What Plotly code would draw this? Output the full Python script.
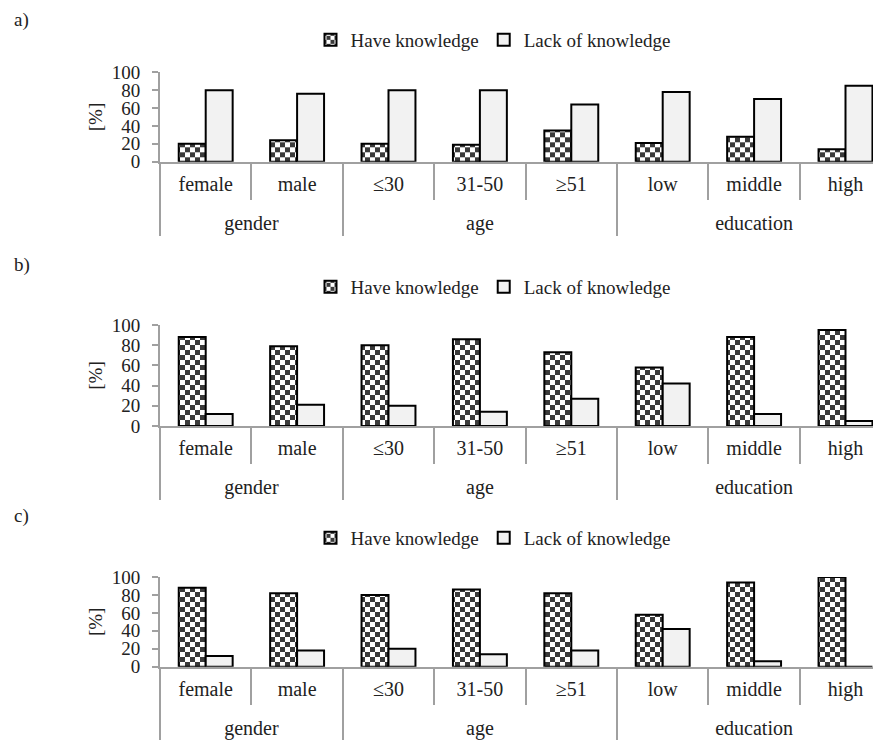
import plotly.graph_objects as go

# ---- data ----
groups = ["gender", "gender", "age", "age", "age", "education", "education", "education"]
categories = ["female", "male", "≤30", "31-50", "≥51", "low", "middle", "high"]
series_names = ["Have knowledge", "Lack of knowledge"]
panel_labels = ["a)", "b)", "c)"]
y_ticks = [0, 20, 40, 60, 80, 100]

have_a = [20, 24, 20, 19, 35, 21, 28, 14]
lack_a = [80, 76, 80, 80, 64, 78, 70, 85]
have_b = [88, 79, 80, 86, 73, 58, 88, 95]
lack_b = [12, 21, 20, 14, 27, 42, 12, 5]
have_c = [88, 82, 80, 86, 82, 58, 94, 100]
lack_c = [12, 18, 20, 14, 18, 42, 6, 0]

# group spans derived from the category/group lists (category index units)
group_names, group_start, group_end = [], [], []
for idx, g in enumerate(groups):
    if not group_names or group_names[-1] != g:
        group_names.append(g)
        group_start.append(idx)
        group_end.append(idx)
    else:
        group_end[-1] = idx
group_centres = [(s + e) / 2 for s, e in zip(group_start, group_end)]
group_bounds = [s - 0.5 for s in group_start] + [group_end[-1] + 0.5]

# ---- styling ----
W, H = 881, 740
OFF = 8  # page body margin
FONT = "Times New Roman, Liberation Serif, serif"
TXT = "#222222"
AX = "#a0a0a0"
CHECK = 10  # checkerboard tile (px)
check_path = (f"M0,0H{CHECK/2}V{CHECK/2}H0Z"
              f"M{CHECK/2},{CHECK/2}H{CHECK}V{CHECK}H{CHECK/2}Z")

panels = [
    dict(have=have_a, lack=lack_a, top=72.3, base=161.7, leg=40, lab=20),
    dict(have=have_b, lack=lack_b, top=325, base=426, leg=287, lab=265),
    dict(have=have_c, lack=lack_c, top=577, base=666.7, leg=538, lab=516),
]
x_left = 160 - OFF
cat_w = 91.4
x_range = [-0.5, -0.5 + (W - x_left) / cat_w]

fig = go.Figure()
layout = dict(
    width=W, height=H, margin=dict(l=0, r=0, t=0, b=0),
    paper_bgcolor="white", plot_bgcolor="white",
    barmode="group", bargap=0.41, bargroupgap=0,
    font=dict(family=FONT, color=TXT, size=19),
    showlegend=True, annotations=[],
)


def nm(k):
    return "" if k == 1 else str(k)


for i, p in enumerate(panels):
    xa = 3 * i + 1
    xg = 3 * i + 2
    xd = 3 * i + 3
    ya = i + 1
    lg = "legend" if i == 0 else f"legend{i + 1}"
    fig.add_trace(go.Bar(
        x=categories, y=p["have"], name=series_names[0],
        xaxis="x" + nm(xa), yaxis="y" + nm(ya), legend=lg,
        marker=dict(color="white", line=dict(color="black", width=2),
                    pattern=dict(path=check_path, fgcolor="#3a3a3a", bgcolor="white",
                                 size=CHECK, fillmode="replace")),
    ))
    fig.add_trace(go.Bar(
        x=categories, y=p["lack"], name=series_names[1],
        xaxis="x" + nm(xa), yaxis="y" + nm(ya), legend=lg,
        marker=dict(color="#f2f2f2", line=dict(color="black", width=2)),
    ))
    # invisible carriers so the overlay axes are drawn
    for xk, xs in ((xg, group_centres), (xd, group_bounds)):
        fig.add_trace(go.Scatter(
            x=xs, y=[0] * len(xs), mode="none", showlegend=False, hoverinfo="skip",
            xaxis="x" + nm(xk), yaxis="y" + nm(ya),
        ))
    y0 = 1 - (p["base"] - OFF) / H
    y1 = 1 - (p["top"] - OFF) / H
    # main category axis: labels + short separators between categories
    layout["xaxis" + nm(xa)] = dict(
        type="category", domain=[x_left / W, 1], range=x_range,
        anchor="y" + nm(ya), showline=True, linecolor=AX, linewidth=2,
        ticks="outside", tickson="boundaries", ticklen=36, tickcolor=AX, tickwidth=2,
        ticklabelstandoff=3,
        tickfont=dict(family=FONT, size=20, color=TXT),
        showgrid=False, zeroline=False, automargin=False,
    )
    # group label axis
    layout["xaxis" + nm(xg)] = dict(
        type="linear", overlaying="x" + nm(xa), anchor="y" + nm(ya), side="bottom",
        range=x_range, tickmode="array", tickvals=group_centres, ticktext=group_names,
        ticks="", showline=False, showgrid=False, zeroline=False,
        ticklabelstandoff=47,
        tickfont=dict(family=FONT, size=20, color=TXT), automargin=False,
    )
    # group divider axis
    layout["xaxis" + nm(xd)] = dict(
        type="linear", overlaying="x" + nm(xa), anchor="y" + nm(ya), side="bottom",
        range=x_range, tickmode="array", tickvals=group_bounds,
        ticks="outside", ticklen=73, tickcolor=AX, tickwidth=2,
        showticklabels=False, showline=False, showgrid=False, zeroline=False,
        automargin=False,
    )
    layout["yaxis" + nm(ya)] = dict(
        domain=[y0, y1], range=[0, 100], anchor="x" + nm(xa),
        tickvals=y_ticks, ticks="outside", ticklen=6, tickcolor=AX, tickwidth=2,
        showline=True, linecolor=AX, linewidth=2,
        showgrid=False, zeroline=False, automargin=False,
        tickfont=dict(family=FONT, size=19, color=TXT),
        ticklabelstandoff=8,
        title=dict(text="[%]", font=dict(family=FONT, size=19, color=TXT), standoff=4),
    )
    layout[lg] = dict(
        orientation="h", x=(493 - OFF) / W, xanchor="center",
        y=1 - (p["leg"] - OFF) / H, yanchor="middle",
        font=dict(family=FONT, size=19, color=TXT),
        bgcolor="rgba(0,0,0,0)", traceorder="normal",
    )
    layout["annotations"].append(dict(
        text=panel_labels[i], xref="paper", yref="paper",
        x=(12 - OFF) / W, xanchor="left", y=1 - (p["lab"] - OFF) / H, yanchor="middle",
        showarrow=False, font=dict(family=FONT, size=19, color=TXT),
    ))

fig.update_layout(**layout)
fig.write_html("out.html")
